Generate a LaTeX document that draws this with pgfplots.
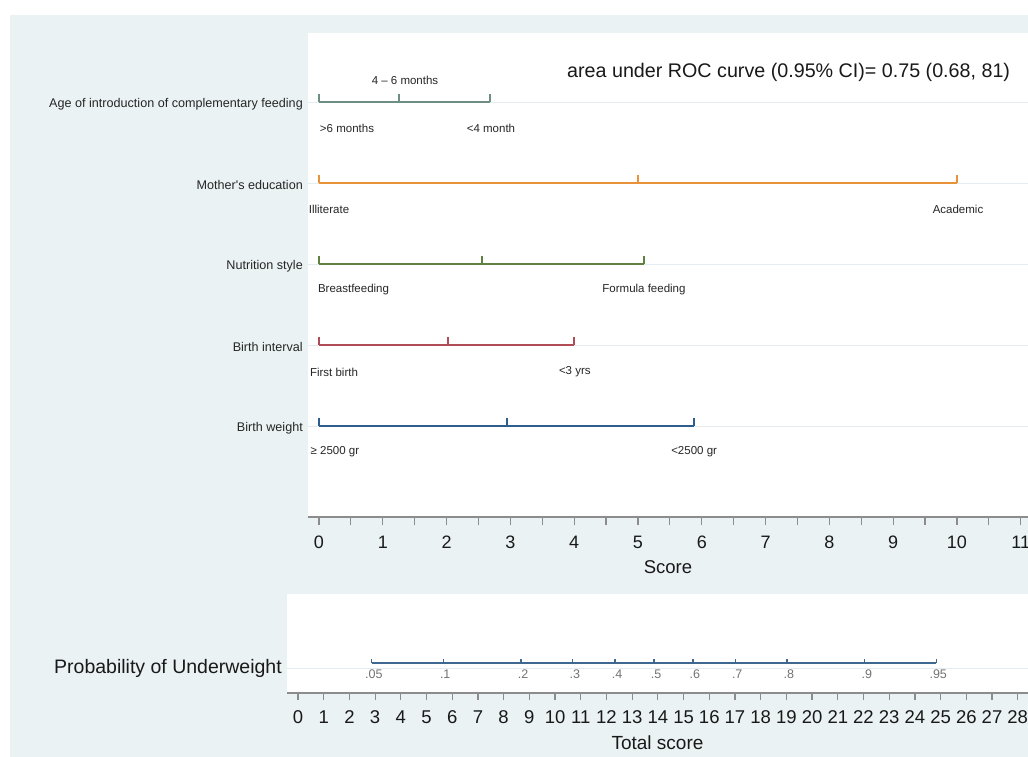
\documentclass[border=0pt]{standalone}
\usepackage{fontspec}
\setmainfont{Liberation Sans}
\usepackage{pgfplots}
\pgfplotsset{compat=1.18}
\definecolor{bg}{HTML}{EAF2F3}
\definecolor{gridc}{HTML}{E3ECEF}
\definecolor{cage}{HTML}{6E8E84}
\definecolor{cmom}{HTML}{E8923A}
\definecolor{cnut}{HTML}{5F8240}
\definecolor{cint}{HTML}{B04C55}
\definecolor{cwt}{HTML}{2E5E8E}
\definecolor{cprob}{HTML}{3E6890}
\definecolor{axc}{HTML}{8C8C8C}
\pgfdeclareplotmark{utick}{\pgfpathmoveto{\pgfqpoint{0pt}{0pt}}\pgfpathlineto{\pgfqpoint{0pt}{8pt}}\pgfusepathqstroke}
\pgfdeclareplotmark{stick}{\pgfpathmoveto{\pgfqpoint{0pt}{0pt}}\pgfpathlineto{\pgfqpoint{0pt}{4pt}}\pgfusepathqstroke}
\newcommand{\sm}{\fontsize{11.5}{12}\selectfont}
\begin{document}
\begin{tikzpicture}
\useasboundingbox (0pt,0pt) rectangle (1028pt,-756pt);
\clip (0pt,0pt) rectangle (1028pt,-756pt);
\fill[white] (0pt,0pt) rectangle (1028pt,-756pt);
\fill[bg] (10pt,-15pt) rectangle (1030pt,-760pt);

\begin{axis}[
  at={(308pt,-517pt)}, anchor=south west,
  scale only axis, width=720pt, height=484pt,
  xmin=-0.1724, xmax=11.113, ymin=-0.1235, ymax=5.852,
  axis background/.style={fill=white},
  axis x line*=bottom, axis y line*=left,
  x axis line style={-, draw=axc, line width=1.3pt},
  y axis line style={draw=none},
  xtick={0,...,11}, minor x tick num=1,
  tick align=outside, major tick length=8pt, minor tick length=8pt,
  xtick style={draw=axc, line width=1.2pt},
  ytick style={draw=none},
  ytick={1,2,3,4,5},
  yticklabels={Birth weight, Birth interval, Nutrition style, Mother\textquotesingle s education, Age of introduction of complementary feeding},
  yticklabel style={font=\fontsize{12.6}{13}\selectfont, text=black!85, anchor=east, inner sep=0pt, xshift=3pt, yshift=-2pt},
  ymajorgrids, grid style={gridc, line width=1pt},
  /pgf/number format/assume math mode=true,
  xticklabel style={font=\fontsize{18}{18}\selectfont, text=black!90, text height=13pt, text depth=0pt, inner sep=0pt, anchor=north, yshift=-10pt},
  xlabel={Score}, xlabel style={font=\fontsize{18.5}{19}\selectfont, text=black!90, yshift=-9pt},
  clip=false,
]
\addplot[cwt, line width=2pt, mark=utick, mark options={line width=2pt}] coordinates {(0,1) (2.95,1) (5.88,1)};
\addplot[cint, line width=2pt, mark=utick, mark options={line width=2pt}] coordinates {(0,2) (2.02,2) (4.0,2)};
\addplot[cnut, line width=2pt, mark=utick, mark options={line width=2pt}] coordinates {(0,3) (2.55,3) (5.09,3)};
\addplot[cmom, line width=2pt, mark=utick, mark options={line width=2pt}] coordinates {(0,4) (5.0,4) (10.0,4)};
\addplot[cage, line width=2pt, mark=utick, mark options={line width=2pt}] coordinates {(0,5) (1.26,5) (2.68,5)};
\node[font=\sm, text=black!85] at (axis cs:1.348,5.272) {4 – 6 months};
\node[font=\sm, text=black!85] at (axis cs:0.439,4.679) {>6 months};
\node[font=\sm, text=black!85] at (axis cs:2.696,4.679) {<4 month};
\node[font=\sm, text=black!85] at (axis cs:0.157,3.679) {Illiterate};
\node[font=\sm, text=black!85] at (axis cs:10.016,3.679) {Academic};
\node[font=\sm, text=black!85] at (axis cs:0.541,2.679) {Breastfeeding};
\node[font=\sm, text=black!85] at (axis cs:5.094,2.679) {Formula feeding};
\node[font=\sm, text=black!85] at (axis cs:0.235,1.667) {First birth};
\node[font=\sm, text=black!85] at (axis cs:4.01,1.667) {<3 yrs};
\node[font=\sm, text=black!85] at (axis cs:0.25,0.679) {≥ 2500 gr};
\node[font=\sm, text=black!85] at (axis cs:5.88,0.679) {<2500 gr};
\node[anchor=west, inner sep=0pt, font=\fontsize{19.7}{20}\selectfont, text=black!90] at (axis cs:3.887,5.37) {area under ROC curve (0.95\% CI)= 0.75 (0.68, 81)};
\end{axis}

\begin{axis}[
  at={(287pt,-693pt)}, anchor=south west,
  scale only axis, width=741pt, height=99pt,
  xmin=-0.428, xmax=28.40, ymin=-0.3, ymax=0.7,
  axis background/.style={fill=white},
  axis x line*=bottom, axis y line*=left,
  x axis line style={-, draw=axc, line width=1.3pt},
  y axis line style={draw=none},
  xtick={0,...,28},
  tick align=outside, major tick length=7pt,
  xtick style={draw=axc, line width=1.2pt},
  ytick style={draw=none},
  ytick={-0.05},
  yticklabels={Probability of Underweight},
  yticklabel style={font=\fontsize{19.5}{20}\selectfont, text=black!90, anchor=east, inner sep=0pt, xshift=2pt},
  ymajorgrids, grid style={gridc, line width=1pt},
  /pgf/number format/assume math mode=true,
  xticklabel style={font=\fontsize{18.5}{19}\selectfont, text=black!90, text height=13.5pt, text depth=0pt, inner sep=0pt, anchor=north, yshift=-10pt},
  xlabel={Total score}, xlabel style={font=\fontsize{19}{19}\selectfont, text=black!90, yshift=-8pt},
  clip=false,
]
\addplot[cprob, line width=2pt, mark=stick, mark options={line width=1.4pt}] coordinates {(2.87,0) (5.65,0) (8.68,0) (10.69,0) (12.34,0) (13.85,0) (15.36,0) (17.01,0) (19.02,0) (22.05,0) (24.83,0)};
\foreach \v/\t in {2.87/.05, 5.65/.1, 8.68/.2, 10.69/.3, 12.34/.4, 13.85/.5, 15.36/.6, 17.01/.7, 19.02/.8, 22.05/.9, 24.83/.95}{
  \edef\temp{\noexpand\node[font=\noexpand\fontsize{12.5}{13}\noexpand\selectfont, text=black!55, xshift=2pt, yshift=-11pt] at (axis cs:\v,0) {\t};}
  \temp
}
\end{axis}
\end{tikzpicture}
\end{document}
